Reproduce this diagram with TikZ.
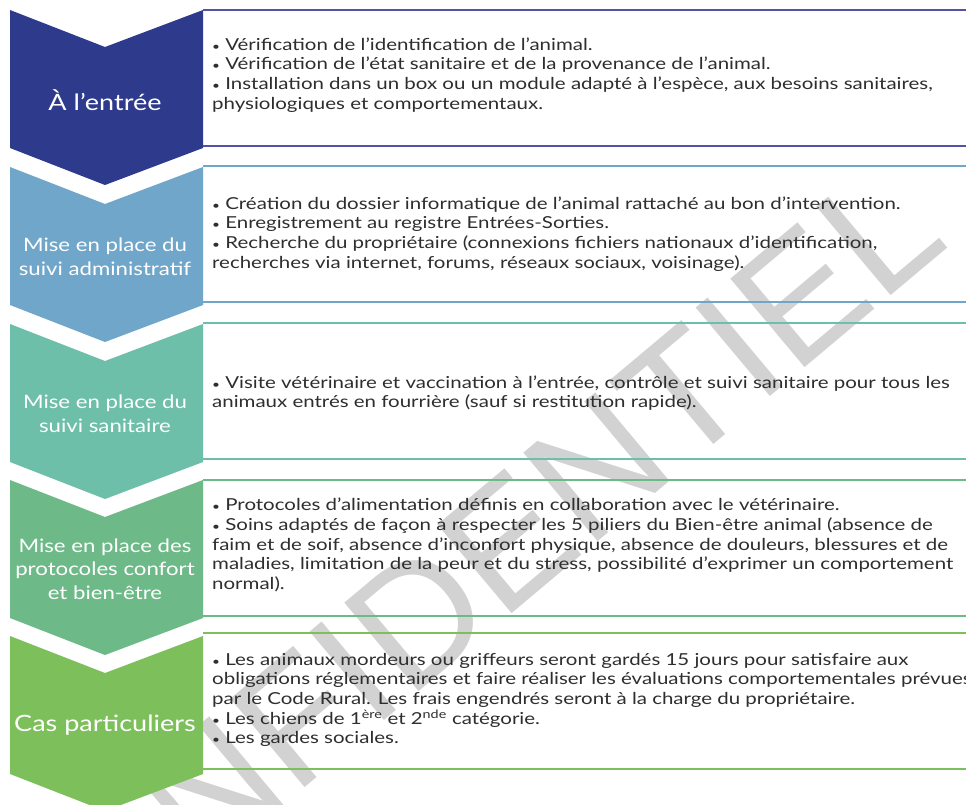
\documentclass[tikz,border=0pt]{standalone}
\usepackage{fontspec}
\setmainfont{Lato}[FakeStretch=1.24]
\newfontfamily\labfont{Lato}[FakeStretch=1.2]
\newfontfamily\wmfont{Liberation Sans}
\definecolor{cA}{HTML}{2E3A8C}
\definecolor{bA}{HTML}{5254A3}
\definecolor{cB}{HTML}{6FA6C9}
\definecolor{cC}{HTML}{6EBFAA}
\definecolor{cD}{HTML}{6DBA88}
\definecolor{cE}{HTML}{7DBF5B}
\definecolor{txt}{HTML}{2E2E2E}
\definecolor{wmgray}{HTML}{D2D2D2}
\newcommand\chevronshape[2]{%
  \fill[#2] (10,#1) -- (105,#1+37) -- (203,#1) -- (203,#1+138) -- (105,#1+175) -- (10,#1+138) -- cycle;}
\newcommand\boxlines[2]{%
  \draw[boxline,#2] (203,#1) -- (966,#1);
  \draw[boxline,#2] (203,#1+136) -- (966,#1+136);}
\newcommand\bul{{\fontsize{11}{11}\selectfont•}}
\begin{document}
\begin{tikzpicture}[x=1pt,y=-1pt,
  boxline/.style={line width=2pt},
  bodytext/.style={anchor=west, align=left, text=txt, inner sep=0pt,
     font=\fontsize{16.5}{19.7}\selectfont},
  chevlabel/.style={align=center, text=white, inner sep=0pt,
     font=\labfont\fontsize{18.5}{23.5}\selectfont},
  biglabel/.style={align=center, text=white, inner sep=0pt,
     font=\labfont\fontsize{22.5}{26}\selectfont},
  wm/.style={text=wmgray, inner sep=0pt, font=\wmfont\fontsize{168}{168}\selectfont}]
\useasboundingbox (0,0) rectangle (966,804);
\fill[white] (0,0) rectangle (966,804);
% watermark
\node[wm, rotate=40, anchor=east] (wm) at (915,200) {CONFIDENTIEL};
% chevrons
\chevronshape{10}{cA}
\chevronshape{167}{cB}
\chevronshape{324}{cC}
\chevronshape{480}{cD}
\chevronshape{636}{cE}
% boxes
\boxlines{10}{bA}
\boxlines{166}{cB}
\boxlines{323}{cC}
\boxlines{480}{cD}
\boxlines{633}{cE}
% labels
\node[biglabel] (l1) at (105,100) {À l’entrée};
\node[chevlabel] (l2) at (105,257) {Mise en place du\\suivi administratif};
\node[chevlabel] (l3) at (105,414) {Mise en place du\\suivi sanitaire};
\node[chevlabel] (l4) at (105,569) {Mise en place des\\protocoles confort\\et bien-être};
\node[biglabel] (l5) at (105,725) {Cas particuliers};
% texts
\node[bodytext] (t1) at (212,75) {\bul{} Vérification de l’identification de l’animal.\\
\bul{} Vérification de l’état sanitaire et de la provenance de l’animal.\\
\bul{} Installation dans un box ou un module adapté à l’espèce, aux besoins sanitaires,\\
physiologiques et comportementaux.};
\node[bodytext] (t2) at (212,234) {\bul{} Création du dossier informatique de l’animal rattaché au bon d’intervention.\\
\bul{} Enregistrement au registre Entrées-Sorties.\\
\bul{} Recherche du propriétaire (connexions fichiers nationaux d’identification,\\
recherches via internet, forums, réseaux sociaux, voisinage).};
\node[bodytext] (t3) at (212,393) {\bul{} Visite vétérinaire et vaccination à l’entrée, contrôle et suivi sanitaire pour tous les\\
animaux entrés en fourrière (sauf si restitution rapide).};
\node[bodytext] (t4) at (212,545) {\bul{} Protocoles d’alimentation définis en collaboration avec le vétérinaire.\\
\bul{} Soins adaptés de façon à respecter les 5 piliers du Bien-être animal (absence de\\
faim et de soif, absence d’inconfort physique, absence de douleurs, blessures et de\\
maladies, limitation de la peur et du stress, possibilité d’exprimer un comportement\\
normal).};
\node[bodytext] (t5) at (212,700) {\bul{} Les animaux mordeurs ou griffeurs seront gardés 15 jours pour satisfaire aux\\
obligations réglementaires et faire réaliser les évaluations comportementales prévues\\
par le Code Rural. Les frais engendrés seront à la charge du propriétaire.\\
\bul{} Les chiens de 1\textsuperscript{ère} et 2\textsuperscript{nde} catégorie.\\
\bul{} Les gardes sociales.};
\end{tikzpicture}
\end{document}
